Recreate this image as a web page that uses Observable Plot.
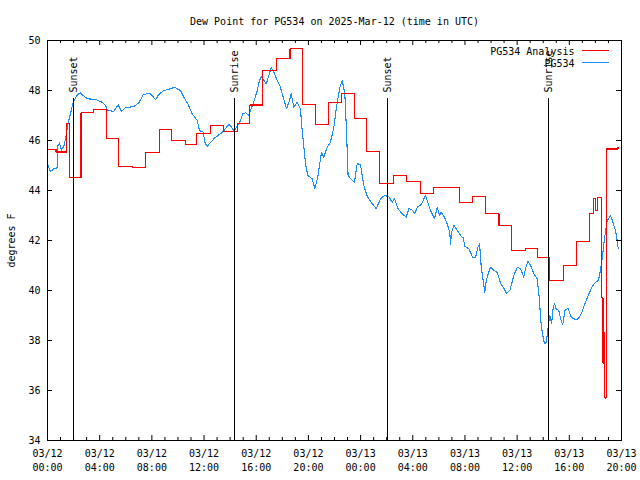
<!DOCTYPE html>
<html>
<head>
<meta charset="utf-8">
<script src="https://cdn.jsdelivr.net/npm/d3@7"></script>
<script src="https://cdn.jsdelivr.net/npm/@observablehq/plot@0.6"></script>
<style>
  html, body { margin: 0; padding: 0; background: white; }
</style>
</head>
<body>
<div id="chart"></div>
<script>
const titleText = "Dew Point for PG534 on 2025-Mar-12 (time in UTC)";
const yLabel = "degrees F";
const legendLabels = ["PG534 Analysis", "PG534"];
const legendColors = ["#ff0000", "#1e8cff"];

// Hours since 2025-03-12 00:00 UTC
const anHours = [0.00,0.65,1.49,1.69,2.57,3.55,4.52,5.42,6.54,7.51,8.61,9.51,10.58,11.42,12.50,13.51,14.54,15.51,16.50,17.53,18.59,19.52,20.57,21.52,22.54,23.53,24.48,25.45,26.49,27.52,28.56,29.59,31.58,32.60,33.58,34.61,35.55,36.64,37.54,38.50,39.52,40.55,41.55,41.82,42.01,42.16,42.48,42.58,42.66,42.72,42.83,43.73];
const anValues = [45.64,45.54,46.67,44.51,47.11,47.25,46.07,44.97,44.91,45.53,46.43,45.99,45.84,46.29,46.60,46.36,46.67,47.42,48.79,49.27,49.67,47.44,46.63,47.51,47.87,46.87,45.55,44.27,44.59,44.36,43.87,44.11,43.51,43.75,43.07,42.59,41.60,41.67,41.31,40.40,40.99,41.96,43.07,43.67,43.20,43.73,39.70,37.10,38.30,35.70,45.66,45.73];

const obsHours = [0.00,0.23,0.46,0.73,0.80,0.92,1.07,1.26,1.43,1.56,1.76,1.94,2.07,2.30,2.53,2.74,3.04,3.68,4.19,4.45,4.62,5.08,5.42,5.67,5.98,6.62,7.00,7.13,7.34,7.84,7.97,8.28,8.53,8.92,9.18,9.74,9.94,10.20,10.45,10.76,11.09,11.29,11.48,11.65,11.94,12.06,12.24,12.50,12.88,13.26,13.52,13.90,14.11,14.28,14.41,14.74,14.97,15.18,15.39,15.56,15.77,16.08,16.25,16.40,16.77,17.15,17.35,17.61,17.81,17.99,18.32,18.55,18.68,18.88,19.14,19.39,19.52,19.78,19.95,20.29,20.49,20.72,20.87,21.00,21.18,21.44,21.69,21.95,22.15,22.41,22.59,22.79,22.92,23.04,23.36,23.53,23.74,23.99,24.25,24.51,24.89,25.20,25.53,25.83,26.16,26.42,26.60,26.87,27.19,27.50,27.70,27.96,28.15,28.34,28.65,28.98,29.15,29.36,29.67,29.87,30.05,30.18,30.43,30.59,30.84,30.89,30.97,31.15,31.41,31.71,31.87,31.99,32.30,32.60,32.81,32.99,33.12,33.25,33.52,33.63,33.78,33.96,34.21,34.47,34.73,34.93,35.19,35.44,35.75,36.01,36.26,36.51,36.64,36.82,37.03,37.28,37.54,37.72,37.79,37.92,38.10,38.23,38.35,38.43,38.51,38.64,38.77,38.87,38.99,39.19,39.40,39.50,39.66,39.89,40.15,40.48,40.68,40.94,41.19,41.50,41.80,42.01,42.22,42.34,42.52,42.65,42.78,42.91,43.16,43.34,43.54,43.67,43.75];
const obsValues = [45.06,44.76,44.86,44.90,45.80,45.90,45.62,45.78,46.20,46.67,47.07,47.47,47.63,47.84,47.91,47.80,47.67,47.64,47.53,47.40,47.20,47.17,47.43,47.17,47.31,47.36,47.51,47.63,47.84,47.89,47.83,47.63,47.84,48.00,48.03,48.13,48.07,48.00,47.73,47.47,47.07,46.93,46.80,46.40,46.33,45.93,45.77,45.93,46.13,46.27,46.40,46.64,46.53,46.40,46.47,46.73,47.07,47.11,47.00,47.20,47.47,48.00,48.40,48.56,48.27,48.91,48.73,48.40,48.20,47.87,47.27,47.60,47.87,47.33,47.53,47.27,46.40,45.07,44.60,44.47,44.07,44.53,45.07,45.53,45.33,45.73,45.93,46.53,47.33,48.13,48.40,47.87,46.40,44.60,44.40,44.33,45.07,45.04,44.20,43.76,43.47,43.27,43.67,43.80,43.76,43.53,43.67,43.27,43.07,42.93,43.28,43.22,43.07,43.33,43.44,43.80,43.53,43.20,42.87,43.33,43.00,43.13,42.93,42.73,42.33,41.83,42.33,42.60,42.40,42.16,42.11,41.76,41.67,41.31,41.31,41.73,41.87,40.93,39.93,40.40,40.67,40.93,40.80,40.73,40.29,40.13,39.89,40.00,40.60,40.93,40.87,40.53,40.87,41.17,41.00,40.67,40.47,39.60,38.87,38.33,37.87,37.93,38.40,38.73,39.00,38.67,39.33,39.49,39.27,39.20,38.73,38.64,39.20,39.29,38.93,38.84,38.87,39.09,39.47,39.87,40.20,40.33,40.40,40.67,41.27,41.87,42.40,42.80,43.00,42.73,42.40,42.00,41.67];

const eventLabels = ["Sunset", "Sunrise", "Sunset", "Sunrise"];
const eventHours = [2.02, 14.35, 26.09, 38.43];
const eventTop = 47.68;

const xTickHours = [0,4,8,12,16,20,24,28,32,36,40,44];
const xMinorHours = d3.range(0, 45, 1).filter(h => h % 4 !== 0);
const yTicks = [34,36,38,40,42,44,46,48,50];

const start = Date.UTC(2025, 2, 12, 0, 0);
const T = h => new Date(start + h * 3600000);

const analysis = anHours.map((h, i) => ({t: T(h), v: anValues[i]}));
const observed = obsHours.map((h, i) => ({t: T(h), v: obsValues[i]}));
const events = eventHours.map((h, i) => ({t: T(h), label: eventLabels[i]}));
const fmt = d3.utcFormat("%m/%d\n%H:%M");

const W = 640, H = 480, ML = 47, MR = 19, MT = 40, MB = 40;
const FH = H - MT - MB, FW = W - ML - MR;

const chart = Plot.plot({
  width: W, height: H,
  marginLeft: ML, marginRight: MR, marginTop: MT, marginBottom: MB,
  style: {fontFamily: "'DejaVu Sans Mono', monospace", fontSize: "10px", background: "white", color: "black", overflow: "visible"},
  x: {type: "utc", domain: [T(0), T(44)]},
  y: {domain: [34, 50]},
  marks: [
    Plot.line(observed, {x: "t", y: "v", stroke: legendColors[1], strokeWidth: 1.1, shapeRendering: "crispEdges"}),
    Plot.line(analysis, {x: "t", y: "v", curve: "step-after", stroke: legendColors[0], strokeWidth: 1.1, shapeRendering: "crispEdges"}),
    Plot.ruleX(events, {x: "t", y1: 34, y2: eventTop, stroke: "black", shapeRendering: "crispEdges"}),
    Plot.text(events, {x: "t", y: eventTop, text: "label", rotate: -90, textAnchor: "start", lineAnchor: "middle", dy: -6, fill: "black"}),
    // inward ticks
    Plot.ruleX(xTickHours.map(T), {insetTop: FH - 5, stroke: "black"}),
    Plot.ruleX(xTickHours.map(T), {insetBottom: FH - 5, stroke: "black"}),
    Plot.ruleX(xMinorHours.map(T), {insetTop: FH - 3, stroke: "black"}),
    Plot.ruleX(xMinorHours.map(T), {insetBottom: FH - 3, stroke: "black"}),
    Plot.ruleY(yTicks, {insetRight: FW - 5, stroke: "black"}),
    Plot.ruleY(yTicks, {insetLeft: FW - 5, stroke: "black"}),
    Plot.frame({stroke: "black"}),
    Plot.axisX(xTickHours.map(T), {tickSize: 0, tickPadding: 7, tickFormat: fmt, lineHeight: 1.4, label: null}),
    Plot.axisY(yTicks, {tickSize: 0, tickPadding: 7, label: yLabel, labelAnchor: "center", labelArrow: "none", labelOffset: 40}),
    Plot.text([titleText], {frameAnchor: "top", dy: -23, text: d => d, fill: "black"}),
    Plot.text([legendLabels[0]], {frameAnchor: "top-right", dx: -47, dy: 7, textAnchor: "end", text: d => d, fill: "black"}),
    Plot.text([legendLabels[1]], {frameAnchor: "top-right", dx: -47, dy: 19, textAnchor: "end", text: d => d, fill: "black"})
  ]
});

const svg = d3.select(chart);
legendColors.forEach((c, i) => {
  svg.append("line")
    .attr("x1", 582).attr("x2", 609)
    .attr("y1", 50.5 + 12 * i).attr("y2", 50.5 + 12 * i)
    .attr("stroke", c).attr("stroke-width", 1);
});
document.getElementById("chart").appendChild(chart);
</script>
</body>
</html>
